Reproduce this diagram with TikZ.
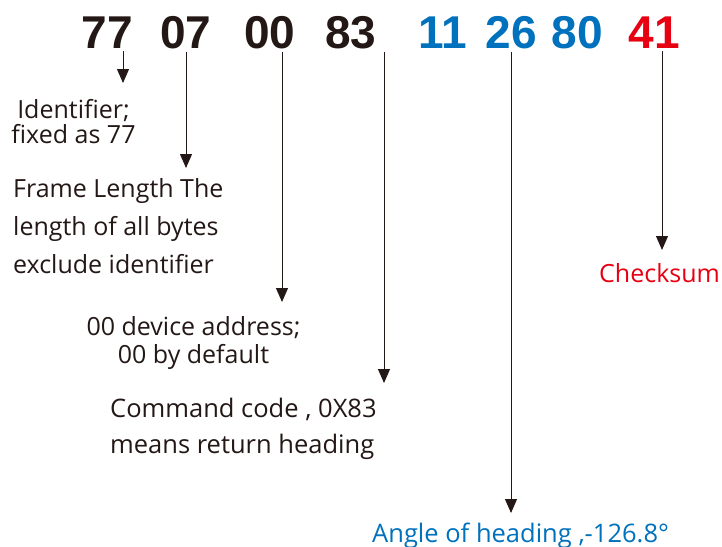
\documentclass[tikz,border=0pt]{standalone}
\usepackage{fontspec}
\setmainfont{Open Sans}
\newfontfamily\numfont{Liberation Sans}
\usetikzlibrary{arrows.meta}
\definecolor{hexblack}{HTML}{231815}
\definecolor{hexblue}{HTML}{0071BC}
\definecolor{hexred}{HTML}{E60012}
\tikzset{
  byte/.style={inner sep=0pt, anchor=base, text=hexblack,
    font=\numfont\bfseries\fontsize{46}{46}\selectfont},
  lbl/.style={inner sep=0pt, anchor=base west, text=hexblack,
    font=\fontsize{25.5}{28}\selectfont},
  pointer/.style={-{Triangle[length=14pt,width=12pt]}, line width=1pt,
    draw=hexblack, shorten <=3pt},
}
\begin{document}
\begin{tikzpicture}[x=1pt, y=-1pt]
\useasboundingbox (0,0) rectangle (722,546);

% frame bytes
\node[byte] (b77) at (107.5,48) {77};
\node[byte] (b07) at (186,48) {07};
\node[byte] (b00) at (270,48) {00};
\node[byte] (b83) at (351,48) {83};
\node[byte, text=hexblue] (b11) at (442.5,48) {11};
\node[byte, text=hexblue] (b26) at (511,48) {26};
\node[byte, text=hexblue] (b80) at (577,48) {80};
\node[byte, text=hexred] (b41) at (654.5,48) {41};

% arrow tips
\coordinate (t1) at (123,83);
\coordinate (t2) at (186,168);
\coordinate (t3) at (282,302);
\coordinate (t4) at (384,383);
\coordinate (t5) at (511,513);
\coordinate (t6) at (662,250);

% labels (base = last line)
\node[lbl, anchor=base, align=center, font=\fontsize{25}{25}\selectfont]
  (ident) at (73.5,143) {Identifier;\\fixed as 77};
\node[lbl, align=left, font=\fontsize{25}{38}\selectfont]
  (flen) at (13,273) {Frame Length The\\length of all bytes\\exclude identifier};
\node[lbl, anchor=base, align=center, font=\fontsize{25}{28}\selectfont]
  (addr) at (193.5,363) {00 device address;\\00 by default};
\node[lbl, align=left, font=\fontsize{25.5}{36}\selectfont]
  (cmd) at (110,453) {Command code , 0X83\\means return heading};
\node[lbl, text=hexred, font=\fontsize{25}{28}\selectfont] (csum) at (599,282) {Checksum};
\node[lbl, text=hexblue] (angle) at (372,542) {Angle of heading ,-126.8°};

% pointers
\draw[pointer] (b77.south -| t1) -- (t1);
\draw[pointer] (b07.south -| t2) -- (t2);
\draw[pointer] (b00.south -| t3) -- (t3);
\draw[pointer] (b83.south -| t4) -- (t4);
\draw[pointer] (b26.south -| t5) -- (t5);
\draw[pointer] (b41.south -| t6) -- (t6);
\end{tikzpicture}
\end{document}
